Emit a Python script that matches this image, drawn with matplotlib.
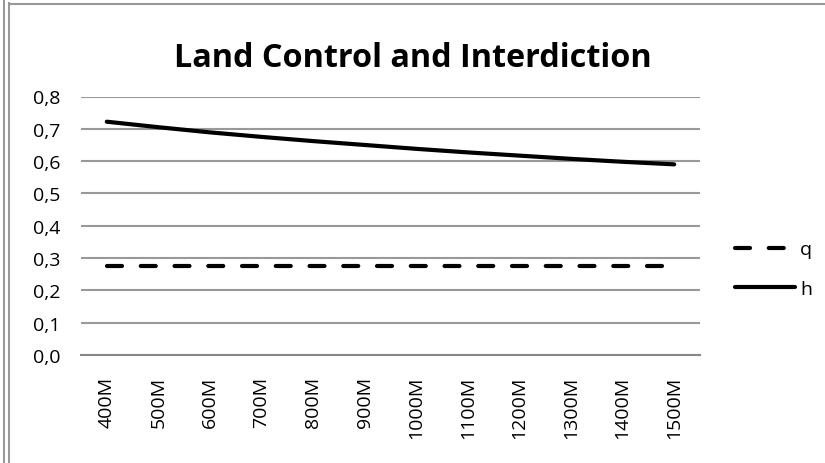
import matplotlib
matplotlib.use('Agg')
import matplotlib.pyplot as plt
from matplotlib.lines import Line2D

# data
categories = ['400M', '500M', '600M', '700M', '800M', '900M',
              '1000M', '1100M', '1200M', '1300M', '1400M', '1500M']
q_values = [0.275] * 12
h_values = [0.722, 0.705, 0.689, 0.675, 0.662, 0.650,
            0.638, 0.627, 0.617, 0.607, 0.598, 0.590]
y_ticks = [0.0, 0.1, 0.2, 0.3, 0.4, 0.5, 0.6, 0.7, 0.8]

plt.rcParams['font.family'] = ['Open Sans', 'DejaVu Sans']

fig = plt.figure(figsize=(8.25, 4.64), dpi=100)

dash = (0, (3.6, 4.5))

# plot area
ax = fig.add_axes([81 / 825, 1 - 356 / 464, (700 - 81) / 825, (356 - 97.5) / 464])
x = range(len(categories))
ax.plot(x, q_values, color='black', lw=3, ls=dash, dash_capstyle='round', label='q')
ax.plot(x, h_values, color='black', lw=3, solid_capstyle='round', label='h')

ax.set_xlim(-0.5, len(categories) - 0.5)
ax.set_ylim(0, 0.8)
ax.set_yticks(y_ticks)
ax.set_yticklabels([f'{v:.1f}'.replace('.', ',') for v in y_ticks], fontsize=14)
ax.set_xticks(list(x))
ax.set_xticklabels(categories, rotation=90, fontsize=14)
ax.tick_params(axis='both', length=0)
ax.tick_params(axis='y', pad=15)
ax.tick_params(axis='x', pad=15)
ax.grid(axis='y', color='#999999', lw=1.5)
ax.set_axisbelow(True)
for side in ['top', 'right', 'left']:
    ax.spines[side].set_visible(False)
ax.spines['bottom'].set_color('#888888')
ax.spines['bottom'].set_linewidth(1.5)

fig.text(413 / 825, 1 - 67 / 464, 'Land Control and Interdiction',
         ha='center', va='baseline', fontsize=23.3, fontweight='bold')

# legend on the right
handles = [Line2D([], [], color='black', lw=3, ls=dash, dash_capstyle='round'),
           Line2D([], [], color='black', lw=3, solid_capstyle='round')]
fig.legend(handles, ['q', 'h'], loc='center left', bbox_to_anchor=(735 / 825, 1 - 270 / 464),
           frameon=False, fontsize=14, handlelength=3.1, handletextpad=0.25, labelspacing=1.1,
           borderpad=0, borderaxespad=0)

# chart frame lines
fig.add_artist(Line2D([4 / 825, 4 / 825], [0, 1], transform=fig.transFigure, color='#999999', lw=1.5))
fig.add_artist(Line2D([9 / 825, 9 / 825], [0, 1 - 4 / 464], transform=fig.transFigure, color='#999999', lw=1.5))
fig.add_artist(Line2D([9 / 825, 1], [1 - 4.5 / 464, 1 - 4.5 / 464], transform=fig.transFigure, color='#999999', lw=1.5))

fig.savefig('out.png', dpi=100)
